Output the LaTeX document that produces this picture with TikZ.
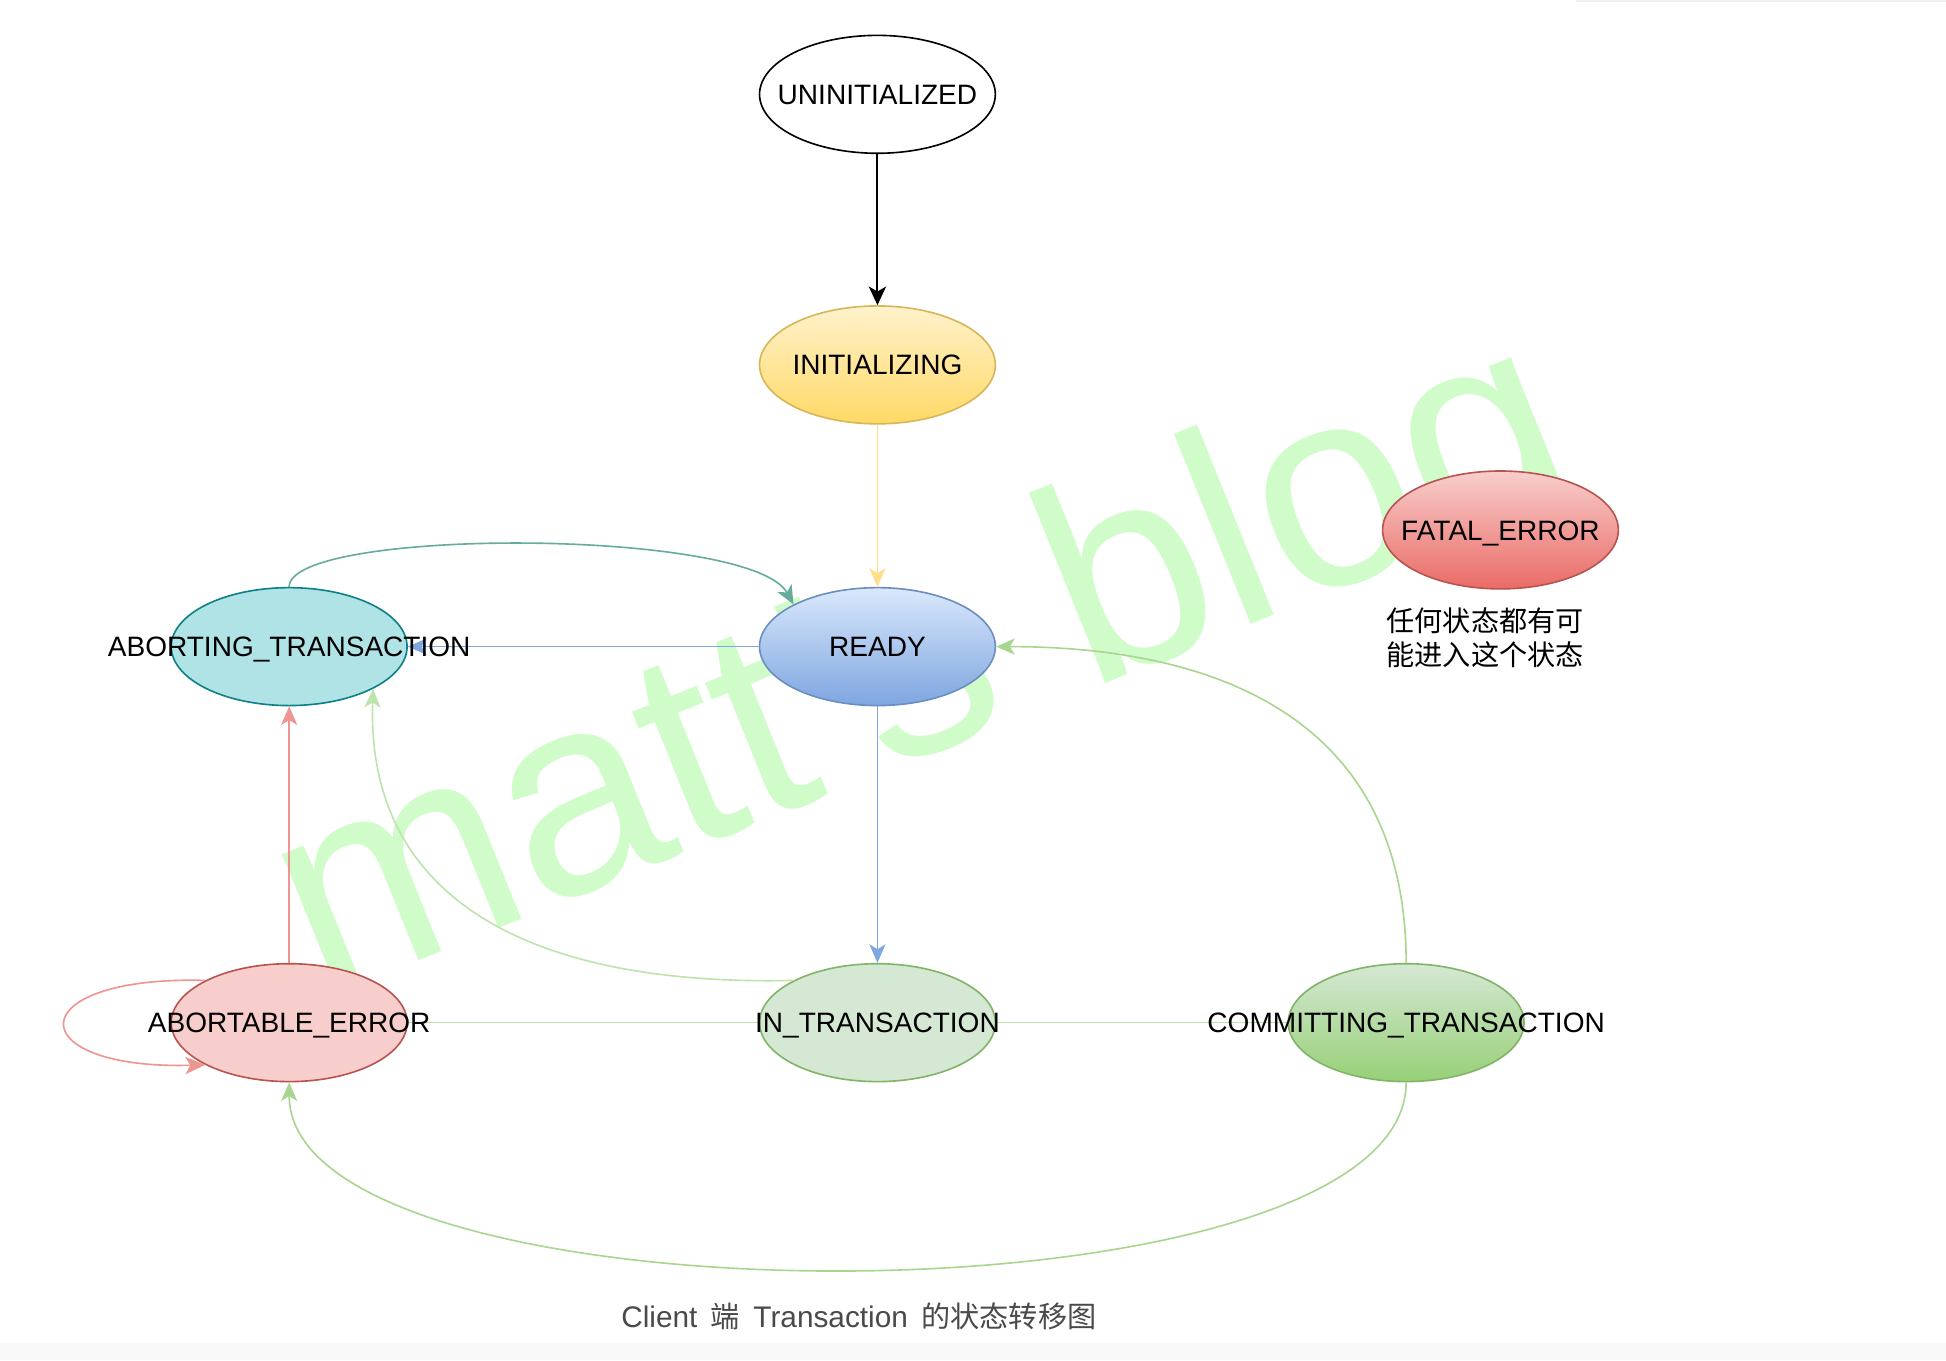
\documentclass[tikz,border=0pt]{standalone}
\usepackage{fontspec}
\setmainfont{Liberation Sans}
\newfontfamily\cjk{Noto Sans CJK SC}
\usetikzlibrary{shapes.geometric,arrows.meta}
\definecolor{wmgreen}{RGB}{208,252,202}
\definecolor{yelS}{HTML}{D6B656}\definecolor{yelT}{HTML}{FFF2CC}\definecolor{yelB}{HTML}{FFD966}
\definecolor{bluS}{HTML}{6C8EBF}\definecolor{bluT}{HTML}{DAE8FC}\definecolor{bluB}{HTML}{7EA6E0}
\definecolor{tealS}{HTML}{0E8088}\definecolor{tealF}{HTML}{B0E3E6}
\definecolor{redS}{HTML}{B85450}\definecolor{redT}{HTML}{F8CECC}\definecolor{redB}{HTML}{EA6B66}
\definecolor{grnS}{HTML}{82B366}\definecolor{grnT}{HTML}{D5E8D4}\definecolor{grnB}{HTML}{97D077}
\definecolor{edgeYel}{HTML}{FFE08A}
\definecolor{edgeTeal}{HTML}{67AB9F}
\definecolor{edgeBlue}{HTML}{7EA6E0}
\definecolor{edgeRed}{HTML}{EE9491}
\definecolor{edgeGrn}{HTML}{A9D68E}
\definecolor{edgeGrnL}{HTML}{BFE3AC}
\definecolor{captionGray}{HTML}{4A4A4A}
\begin{document}
\begin{tikzpicture}[x=1pt,y=-1pt,
  state/.style={ellipse, minimum width=190pt, minimum height=95pt, inner sep=0pt, line width=1.3pt},
  lbl/.style={inner sep=0pt, text height=16.2pt, text depth=0pt, font=\fontsize{22.6}{27}\selectfont},
  conn/.style={line width=1.3pt},
  arr/.style={conn, -{Stealth[length=15pt,width=13pt,inset=4pt]}}
]
\useasboundingbox (0,0) rectangle (1568,1096);
\fill[white] (0,0) rectangle (1568,1096);
% faint page artefacts
\fill[black!6] (1270,0) rectangle (1568,2);
\fill[black!2.5] (0,1082) rectangle (1568,1096);
% watermark
\node[rotate=22, anchor=base west, inner sep=0pt, text=wmgreen,
      font=\fontsize{228}{228}\selectfont] (wm) at (258,806) {matt's blog};

% state shapes
\node[state, draw=black, fill=white] (un) at (707,76) {};
\node[state, draw=yelS, top color=yelT, bottom color=yelB] (ini) at (707,294) {};
\node[state, draw=bluS, top color=bluT, bottom color=bluB] (rdy) at (707,521) {};
\node[state, draw=tealS, fill=tealF] (abt) at (233,521) {};
\node[state, draw=redS, top color=redT, bottom color=redB] (fat) at (1209,427) {};
\node[state, draw=redS, fill=redT] (abe) at (233,824) {};
\node[state, draw=grnS, fill=grnT] (itx) at (707,824) {};
\node[state, draw=grnS, top color=grnT, bottom color=grnB] (cmt) at (1133,824) {};

% connectors
\draw[conn, line width=1.6pt, -{Stealth[length=15pt,width=14pt,inset=4pt]}] (un) -- (ini);
\draw[arr, edgeYel] (ini) -- (rdy);
\draw[arr, edgeTeal] (abt.north) .. controls (233,425) and (605,425) .. (rdy.north west);
\draw[arr, edgeBlue] (rdy.west) -- (abt.east);
\draw[arr, edgeBlue] (rdy.south) -- (itx.north);
\draw[arr, edgeGrnL] (itx.north west) .. controls (420,795) and (295,720) .. (abt.south east);
\draw[arr, edgeRed] (abe.north) -- (abt.south);
\draw[conn, edgeRed, -{Stealth[length=16pt,width=14pt,inset=4pt]}] (abe.north west) .. controls (15,786) and (15,862) .. (abe.south west);
\draw[conn, edgeGrnL] (itx.west) -- (abe.east);
\draw[conn, edgeGrnL] (itx.east) -- (cmt.west);
\draw[arr, edgeGrn] (cmt.north) .. controls (1133,560) and (950,521) .. (rdy.east);
\draw[arr, edgeGrn] (cmt.south) .. controls (1133,1073) and (233,1073) .. (abe.south);

% labels
\node[lbl] (un-l) at (un) {UNINITIALIZED};
\node[lbl] (ini-l) at (ini) {INITIALIZING};
\node[lbl] (rdy-l) at (rdy) {READY};
\node[lbl] (abt-l) at (abt) {ABORTING\_TRANSACTION};
\node[lbl] (fat-l) at (fat) {FATAL\_ERROR};
\node[lbl] (abe-l) at (abe) {ABORTABLE\_ERROR};
\node[lbl] (itx-l) at (itx) {IN\_TRANSACTION};
\node[lbl] (cmt-l) at (cmt) {COMMITTING\_TRANSACTION};

\node[anchor=west, inner sep=0pt, align=left, font=\cjk\fontsize{22.7}{27}\selectfont] (note) at (1117,514)
  {任何状态都有可\\能进入这个状态};

\node[inner sep=0pt, text=captionGray, font=\fontsize{24}{28}\selectfont] (cap) at (692,1061)
  {Client\hspace{0.45em}{\cjk\fontsize{23.5}{28}\selectfont 端}\hspace{0.45em}Transaction\hspace{0.45em}{\cjk\fontsize{23.5}{28}\selectfont 的状态转移图}};
\end{tikzpicture}
\end{document}
